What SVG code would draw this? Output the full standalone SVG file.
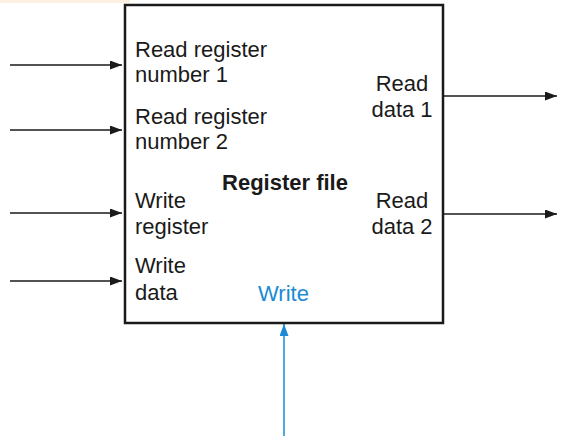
<svg xmlns="http://www.w3.org/2000/svg" width="570" height="445" viewBox="0 0 570 445">
<style>
text{font-family:"Liberation Sans",Arial,sans-serif;font-size:22px;fill:#1a1a1a}
.b{font-weight:bold}
.blue{fill:#1a8ad4}
.w{stroke:#1a1a1a;stroke-width:1.5;fill:none}
.wb{stroke:#1a8ad4;stroke-width:1.5;fill:none}
</style>
<defs>
<marker id="ah" viewBox="0 0 12 9" refX="12" refY="4.5" markerWidth="12" markerHeight="9" markerUnits="userSpaceOnUse" orient="auto"><path d="M0,0L12,4.5L0,9z" fill="#1a1a1a"/></marker>
<marker id="ahb" viewBox="0 0 12 9" refX="12" refY="4.5" markerWidth="12" markerHeight="9" markerUnits="userSpaceOnUse" orient="auto"><path d="M0,0L12,4.5L0,9z" fill="#1a8ad4"/></marker>
</defs>
<rect x="0" y="0" width="570" height="445" fill="#fff"/>
<rect x="0" y="0" width="130" height="3" fill="#fdf0e0"/>
<g id="connectors">
<path class="w" d="M10,65H122" marker-end="url(#ah)"/>
<path class="w" d="M10,130H122" marker-end="url(#ah)"/>
<path class="w" d="M10,213H122" marker-end="url(#ah)"/>
<path class="w" d="M10,281H122" marker-end="url(#ah)"/>
<path class="w" d="M444,96H557" marker-end="url(#ah)"/>
<path class="w" d="M444,214H557" marker-end="url(#ah)"/>
<path class="wb" d="M284,436V324" marker-end="url(#ahb)"/>
</g>
<g id="regfile">
<rect x="125" y="5" width="318" height="318" fill="#fff" stroke="#1a1a1a" stroke-width="2.5"/>
<text x="135" y="57">Read register</text>
<text x="135" y="82">number 1</text>
<text x="135" y="124">Read register</text>
<text x="135" y="149">number 2</text>
<text x="135" y="208">Write</text>
<text x="135" y="234">register</text>
<text x="135" y="273">Write</text>
<text x="135" y="300">data</text>
<text x="285" y="190" class="b" text-anchor="middle">Register file</text>
<text x="402" y="91" text-anchor="middle">Read</text>
<text x="402" y="117" text-anchor="middle">data 1</text>
<text x="402" y="208" text-anchor="middle">Read</text>
<text x="402" y="234" text-anchor="middle">data 2</text>
<text x="258" y="301" class="blue">Write</text>
</g>
</svg>
